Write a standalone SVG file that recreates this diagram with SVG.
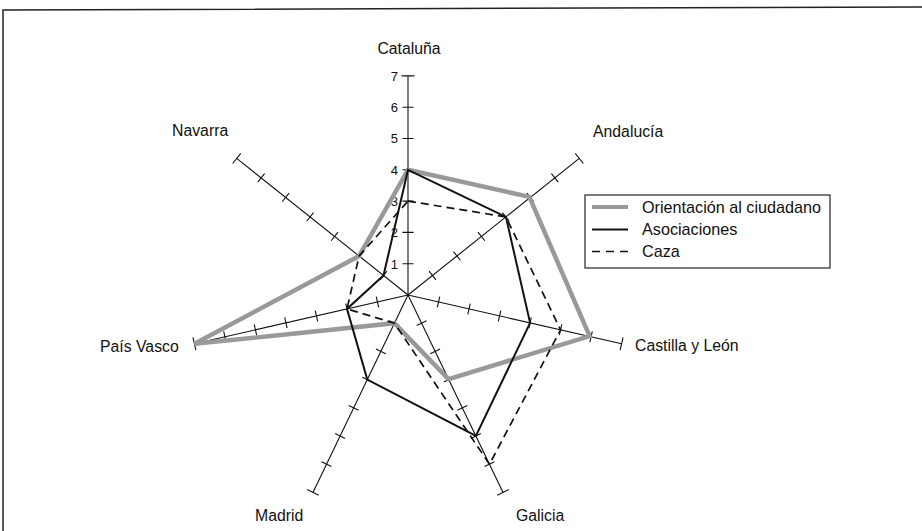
<svg xmlns="http://www.w3.org/2000/svg" xmlns:xlink="http://www.w3.org/1999/xlink" width="922" height="531" viewBox="0 0 922 531">
<style>
.ax{stroke:#111;stroke-width:1.1;fill:none}
.lbl{font-family:"Liberation Sans",Arial,sans-serif;font-size:15.8px;fill:#111}
.leg{font-family:"Liberation Sans",Arial,sans-serif;font-size:16.2px;fill:#111}
.num{font-family:"Liberation Sans",Arial,sans-serif;font-size:13px;fill:#111;text-anchor:end}
.ori{stroke:#999;stroke-width:4.5;fill:none;stroke-linejoin:miter}
.aso{stroke:#111;stroke-width:2;fill:none;stroke-linejoin:miter}
.caz{stroke:#111;stroke-width:1.7;fill:none;stroke-dasharray:8 5}
</style>
<defs>
<g id="axis">
<line class="ax" x1="0" y1="0" x2="219.1" y2="0"/>
<path class="ax" d="M31.3,-5.5V5.5M62.6,-5.5V5.5M93.9,-5.5V5.5M125.2,-5.5V5.5M156.5,-5.5V5.5M187.8,-5.5V5.5M219.1,-6.5V6.5"/>
</g>
</defs>
<rect width="922" height="531" fill="#fff"/>
<polyline points="3,531 3,10 922,7" fill="none" stroke="#222" stroke-width="1.5"/>
<g id="axes">
<use xlink:href="#axis" transform="translate(408 295) rotate(-90)"/>
<use xlink:href="#axis" transform="translate(408 295) rotate(-38.571)"/>
<use xlink:href="#axis" transform="translate(408 295) rotate(12.857)"/>
<use xlink:href="#axis" transform="translate(408 295) rotate(64.286)"/>
<use xlink:href="#axis" transform="translate(408 295) rotate(115.714)"/>
<use xlink:href="#axis" transform="translate(408 295) rotate(167.143)"/>
<use xlink:href="#axis" transform="translate(408 295) rotate(218.571)"/>
</g>
<g id="scale">
<text class="num" x="398" y="268.5">1</text>
<text class="num" x="398" y="237.2">2</text>
<text class="num" x="398" y="205.9">3</text>
<text class="num" x="398" y="174.6">4</text>
<text class="num" x="398" y="143.3">5</text>
<text class="num" x="398" y="112">6</text>
<text class="num" x="398" y="80.7">7</text>
</g>
<g id="connectors">
<polygon class="ori" points="408,169.8 529.4,196.9 589.6,336.2 448.5,379.1 394.4,323.2 194.4,343.8 359.1,256"/>
<polygon class="aso" points="408,169.8 505.9,216.9 530.1,322.9 475.9,436 367.3,379.6 347,308.9 383.5,275.5"/>
<polygon class="caz" points="408,201.1 505.9,216.9 560.6,329.8 489.5,464.2 394.4,323.2 347,308.9 359.1,256"/>
</g>
<g id="cataluna"><text class="lbl" x="409" y="54" text-anchor="middle">Cataluña</text></g>
<g id="andalucia"><text class="lbl" x="593" y="137">Andalucía</text></g>
<g id="castilla"><text class="lbl" x="635" y="351">Castilla y León</text></g>
<g id="galicia"><text class="lbl" x="516" y="521">Galicia</text></g>
<g id="madrid"><text class="lbl" x="255" y="521">Madrid</text></g>
<g id="paisvasco"><text class="lbl" x="100" y="352">País Vasco</text></g>
<g id="navarra"><text class="lbl" x="172" y="136">Navarra</text></g>
<g id="legend">
<rect x="585" y="195" width="245" height="73" fill="#fff" stroke="#222" stroke-width="1.2"/>
<line class="ori" x1="592" y1="207" x2="628" y2="207" style="stroke-width:4"/>
<line class="aso" x1="592" y1="229.5" x2="628" y2="229.5"/>
<line class="caz" x1="592" y1="251.5" x2="628" y2="251.5" style="stroke-dasharray:8 6"/>
<text class="leg" x="642" y="213">Orientación al ciudadano</text>
<text class="leg" x="642" y="235">Asociaciones</text>
<text class="leg" x="642" y="257">Caza</text>
</g>
</svg>
